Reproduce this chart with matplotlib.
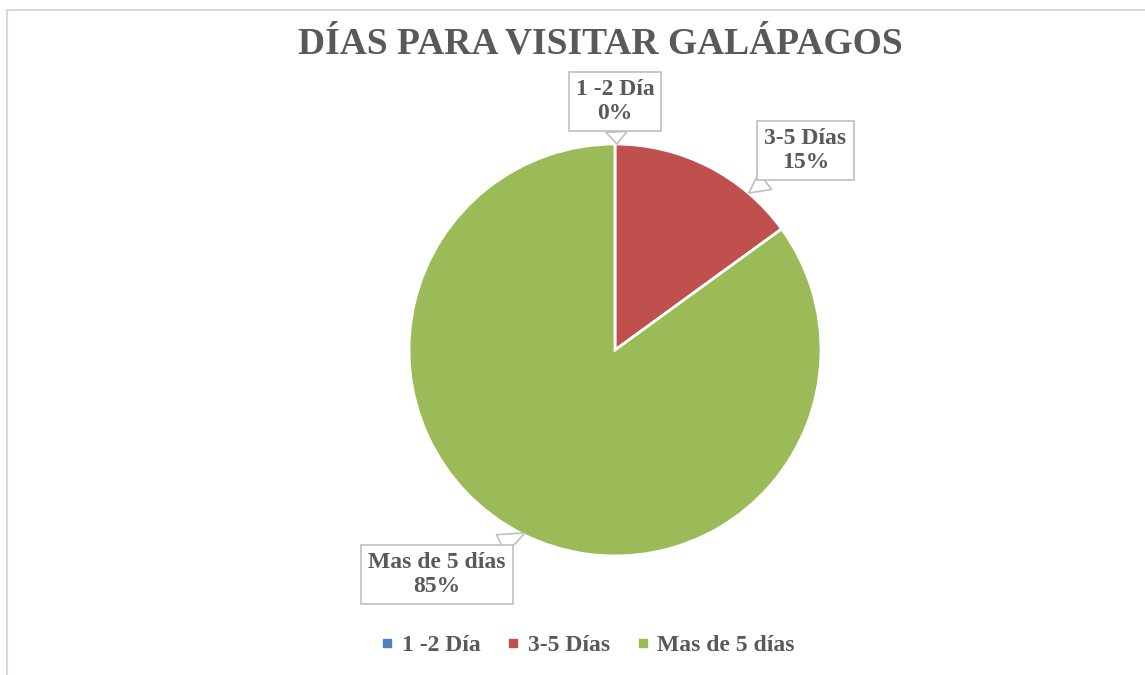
import matplotlib
matplotlib.use("Agg")
import matplotlib.pyplot as plt
from matplotlib.patches import Rectangle
from matplotlib.lines import Line2D

title = "DÍAS PARA VISITAR GALÁPAGOS"
categories = ["1 -2 Día", "3-5 Días", "Mas de 5 días"]
values = [0, 15, 85]
pct_labels = ["0%", "15%", "85%"]
colors = ["#4F81BD", "#C0504D", "#9BBB59"]

W, H = 1145, 675
fig = plt.figure(figsize=(W / 100, H / 100), dpi=100)
fig.patch.set_facecolor("white")

serif = ["Liberation Serif", "DejaVu Serif"]
grey = "#595959"

# outer frame
fig.add_artist(Rectangle((7 / W, -0.05), 1.1, (H - 10) / H + 0.05, transform=fig.transFigure,
                         fill=False, edgecolor="#D9D9D9", linewidth=1.5))

cx, cy, r = 615, 350, 206
ax = fig.add_axes([(cx - r) / W, (H - cy - r) / H, 2 * r / W, 2 * r / H])
wedges, _ = ax.pie(values, colors=colors, startangle=90, counterclock=False,
                   wedgeprops=dict(edgecolor="white", linewidth=2))
ax.set_xlim(-1, 1)
ax.set_ylim(-1, 1)
ax.set_aspect("auto")
ax.axis("off")

label_pos = [(0.0, 1.206), (0.925, 0.968), (-0.864, -1.090)]
arrow_tgt = [(0.01, 1.0), (0.65, 0.762), (-0.437, -0.888)]
for cat, pl, pos, tgt in zip(categories, pct_labels, label_pos, arrow_tgt):
    ax.annotate(f"{cat}\n{pl}", xy=tgt, xytext=pos, ha="center", va="center",
                fontsize=17, fontweight="bold", family=serif, color=grey,
                linespacing=1.2, annotation_clip=False,
                bbox=dict(boxstyle="square,pad=0.3", facecolor="white",
                          edgecolor="#BFBFBF", linewidth=1.2),
                arrowprops=dict(arrowstyle="wedge,tail_width=0.9,shrink_factor=0.5",
                                facecolor="white", edgecolor="#BFBFBF", linewidth=1.2,
                                shrinkA=0, shrinkB=0))

fig.text(600 / W, 1 - 44 / H, title, ha="center", va="center", fontsize=27,
         fontweight="bold", family=serif, color=grey)

handles = [Line2D([0], [0], marker="s", linestyle="none", markersize=5.5,
                  markerfacecolor=c, markeredgecolor=c) for c in colors]
fig.legend(handles, categories, loc="center", bbox_to_anchor=(588 / W, 1 - 645 / H),
           ncol=3, frameon=False, handlelength=0.5, handletextpad=0.35, columnspacing=1.15,
           prop=dict(family=serif, weight="bold", size=17), labelcolor=grey)

fig.savefig("out.png", dpi=100)
